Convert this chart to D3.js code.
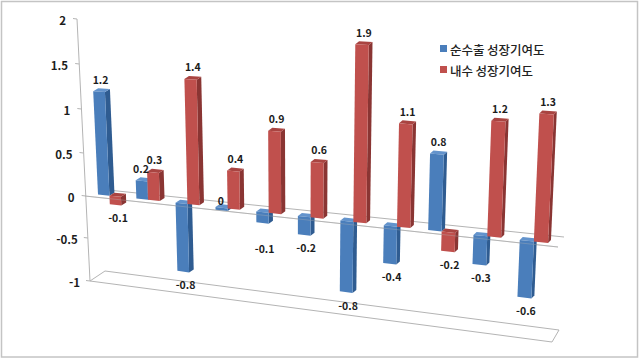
<!DOCTYPE html>
<html lang="ko">

<head>
	<title>순수출 / 내수 성장기여도</title>
	<meta charset="utf-8">
	<script src="https://d3js.org/d3.v7.min.js"></script>
	<style>
		html, body { margin: 0; padding: 0; background: #fff; }
		svg { display: block; }
		text { font-family: "Noto Sans CJK KR", "Noto Sans", sans-serif; fill: #1c1c1c; }
		.value { font-size: 10.5px; font-weight: 700; text-anchor: middle; dominant-baseline: central; }
		.tick { font-size: 11.5px; font-weight: 700; text-anchor: end; dominant-baseline: central; }
		.legend { font-size: 12.5px; font-weight: 500; dominant-baseline: central; fill: #222; word-spacing: -1px; }
		.frame { stroke: #b4b4b4; stroke-width: 1; fill: none; }
	</style>
</head>

<body>
	<div id="container"></div>
	<script>
		// Data
		const netExports = [1.2, 0.21, -0.77, -0.03, -0.12, -0.2, -0.76, -0.4, 0.8, -0.3, -0.58];
		const domestic = [-0.1, 0.32, 1.41, 0.42, 0.9, 0.6, 1.9, 1.09, -0.2, 1.19, 1.3];
		const yTicks = [-1, -0.5, 0, 0.5, 1, 1.5, 2];
		const seriesNames = ["순수출 성장기여도", "내수 성장기여도"];

		const width = 640;
		const height = 359;

		const svg = d3.select("#container")
			.append("svg")
			.attr("width", width)
			.attr("height", height);

		svg.append("rect")
			.attr("x", 1.5).attr("y", 1.5)
			.attr("width", 636).attr("height", 355.5)
			.attr("fill", "#fff")
			.attr("stroke", "#c4c4c4")
			.attr("stroke-width", 1.5);

		// Scales. The chart is a tilted 3D view so the category position goes
		// through a small perspective divide
		const yAxisScale = d3.scaleLinear()
			.domain(yTicks)
			.range([281, 238, 196, 153, 109, 64, 19]);
		const xAxisScale = d3.scaleLinear().domain([-1, 2]).range([90, 77]);

		const catIndex = d3.scaleLinear().domain([0, 10]).range([0, 1]);
		const catX = d3.scaleLinear().domain([0, 10]).range([98, 478]);
		const unit = d3.scaleLinear().domain([0, 1]).range([86, 98]);
		const lean = d3.scaleLinear().domain([0, 1]).range([-4, 4]);
		const depthX = d3.scaleLinear().domain([0, 1]).range([5, 3]);
		const baseY = d3.scaleLinear().domain([85, 558]).range([193, 244]);

		const perspective = i => 98 + (catX(i) - 98) / (1 - 0.0099 * i);

		const barWidth = 0.3;
		const depthY = 3;

		// front corner of a bar for a value
		function project(i, v) {
			const t = catIndex(i);
			const x0 = perspective(i);
			return [x0 + lean(t) * v, baseY(x0) - unit(t) * v];
		}

		// Walls and floor
		const frame = [
			[[85, 196], [558, 247]],
			[[98, 189], [564, 237]],
			[[90, 281], [552, 342]],
			[[105, 271], [559, 330]],
			[[90, 281], [105, 271]],
			[[552, 342], [559, 330]]
		];

		svg.append("g")
			.selectAll("line")
			.data(frame)
			.join("line")
			.attr("class", "frame")
			.attr("x1", d => d[0][0]).attr("y1", d => d[0][1])
			.attr("x2", d => d[1][0]).attr("y2", d => d[1][1]);

		// Axis
		const axis = svg.append("g");
		axis.append("line")
			.attr("class", "frame")
			.attr("x1", xAxisScale(2)).attr("y1", yAxisScale(2))
			.attr("x2", xAxisScale(-1)).attr("y2", yAxisScale(-1));
		axis.selectAll("line.mark")
			.data(yTicks)
			.join("line")
			.attr("class", "mark frame")
			.attr("x1", d => xAxisScale(d) - 4).attr("y1", d => yAxisScale(d) - 0.5)
			.attr("x2", d => xAxisScale(d)).attr("y2", d => yAxisScale(d));
		axis.selectAll("text")
			.data(yTicks)
			.join("text")
			.attr("class", "tick")
			.attr("x", d => xAxisScale(d) - 11 + (d < 0 ? 1 : 0))
			.attr("y", d => yAxisScale(d) + 1)
			.text(d => d);

		// Bars
		const colors = [
			{ front: "#4a7ebb", side: "#2f5c91", top: "#6393cc" },
			{ front: "#c0504d", side: "#8a3533", top: "#a94441" }
		];

		const bars = [];
		netExports.forEach((v, i) => {
			bars.push({ i, offset: 0, v, c: colors[0] });
			bars.push({ i, offset: barWidth, v: domestic[i], c: colors[1] });
		});

		const pathOf = pts => "M" + pts.map(p => p.join(",")).join("L") + "Z";

		const barG = svg.append("g");
		bars.forEach(d => {
			const pos = d.i + d.offset;
			const a0 = project(pos, 0);
			const a1 = project(pos, d.v);
			const b0 = project(pos + barWidth, 0);
			const b1 = project(pos + barWidth, d.v);
			const dx = depthX(catIndex(pos));
			const back = p => [p[0] + dx, p[1] - depthY];
			const top = d.v >= 0 ? [a1, b1] : [a0, b0];
			barG.append("path").attr("d", pathOf([b0, b1, back(b1), back(b0)])).attr("fill", d.c.side);
			barG.append("path").attr("d", pathOf([top[0], top[1], back(top[1]), back(top[0])])).attr("fill", d.c.top);
			barG.append("path").attr("d", pathOf([a0, a1, b1, b0])).attr("fill", d.c.front);
			d.cx = (a1[0] + b1[0] + dx) / 2;
			d.yEnd = d.v >= 0 ? Math.min(a1[1], b1[1]) - depthY : Math.max(a1[1], b1[1]);
		});

		// faint wall line showing through the bars
		svg.append("line")
			.attr("x1", 85).attr("y1", 196).attr("x2", 558).attr("y2", 247)
			.attr("stroke", "#b4b4b4").attr("stroke-opacity", 0.35);

		// Labels. A couple sit away from their bar in the original
		const labelNudge = { "0-0": [-1, 0], "3-0": [-3, -23], "4-0": [0, 13], "1-0": [-3, 0], "1-1": [-1, 0] };
		const nudgeOf = d => labelNudge[`${d.i}-${d.offset ? 1 : 0}`] || [0, 0];
		svg.append("g")
			.selectAll("text")
			.data(bars)
			.join("text")
			.attr("class", "value")
			.attr("x", d => d.cx + nudgeOf(d)[0])
			.attr("y", d => d.yEnd + (d.v >= 0 ? -9 : 12) + nudgeOf(d)[1])
			.text(d => String(Math.round(d.v * 10) / 10));

		// Legend
		const legend = svg.append("g")
			.selectAll("g")
			.data(seriesNames)
			.join("g")
			.attr("transform", (d, i) => `translate(440,${45 + i * 21})`);
		legend.append("rect")
			.attr("width", 7).attr("height", 7)
			.attr("fill", (d, i) => colors[i].front);
		legend.append("text")
			.attr("class", "legend")
			.attr("x", 10).attr("y", 4)
			.text(d => d);
	</script>
</body>

</html>
